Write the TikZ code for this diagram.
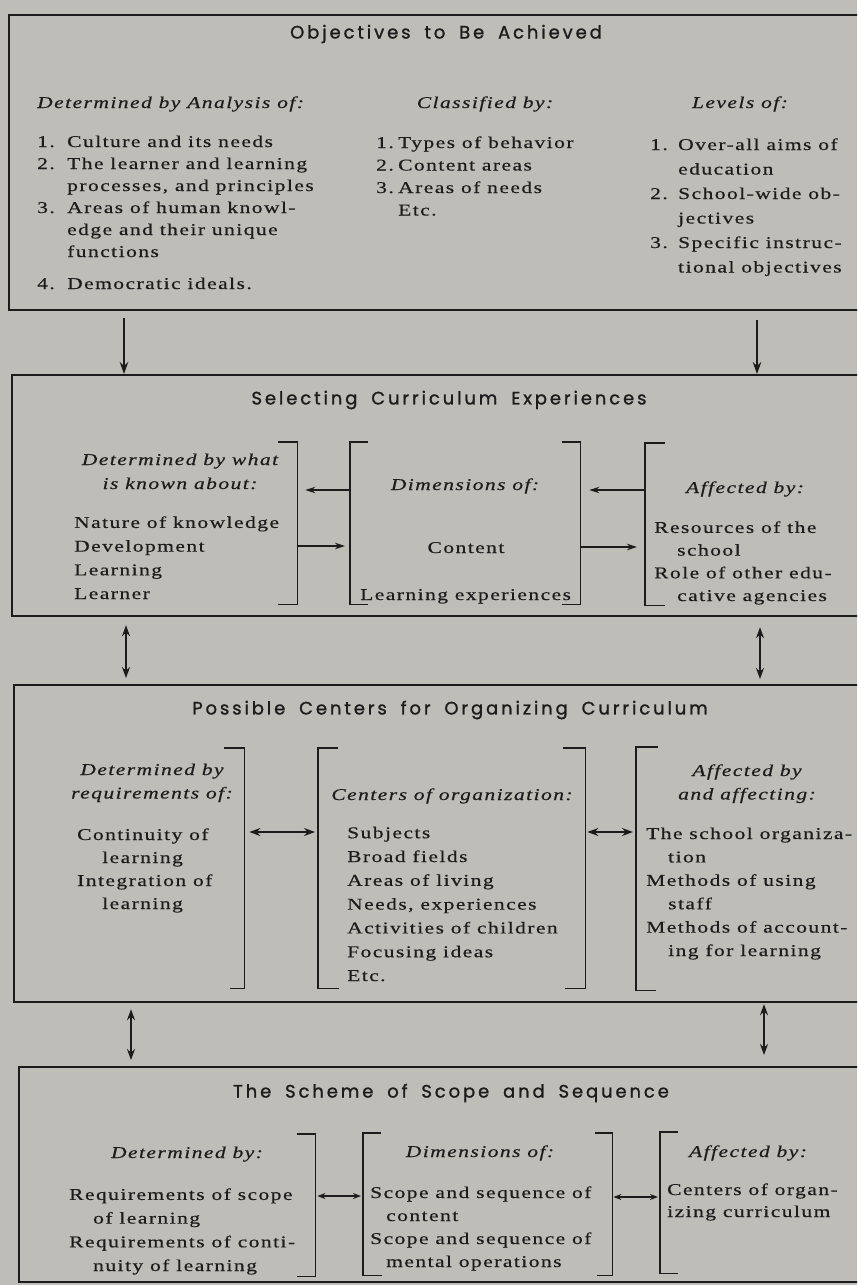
\documentclass[tikz,border=0pt]{standalone}
\usepackage{fontspec}
\usetikzlibrary{arrows.meta}
\setmainfont{Liberation Serif}[FakeStretch=1.3,LetterSpace=9,FakeBold=0.5]
\newfontfamily\headfont{Poppins}[LetterSpace=16,WordSpace=1.8,FakeBold=1.2]
\definecolor{paper}{RGB}{190,189,183}
\definecolor{ink}{RGB}{28,28,28}
% hanging number of a list item
\newcommand\itemno[2]{\makebox[#1][l]{#2}}

% multi-line text nodes are placed by the baseline of their last line
\tikzset{
  frame/.style={draw=ink, line width=2.2pt, inner sep=0pt, anchor=north west},
  span/.style={inner sep=0pt, anchor=north west},
  brk/.style={draw=ink, line width=1.8pt},
  title/.style={font=\headfont\fontsize{18}{20}\selectfont, text=ink, inner sep=0pt},
  head/.style={font=\fontsize{16.5}{#1}\selectfont\itshape, text=ink, inner sep=0pt, anchor=base, align=center},
  head/.default=23.5,
  txt/.style={font=\fontsize{16.5}{#1}\selectfont, text=ink, inner sep=0pt, align=left, anchor=base west},
  txt/.default=23,
  arr/.style={draw=ink, line width=1.5pt, -{Stealth[length=12pt,width=8.5pt]}},
  darr/.style={draw=ink, line width=1.5pt, {Stealth[length=11pt,width=8pt]}-{Stealth[length=11pt,width=8pt]}},
  sarr/.style={draw=ink, line width=1.4pt, {Stealth[length=8pt,width=6pt]}-{Stealth[length=8pt,width=6pt]}},
  iarr/.style={draw=ink, line width=1.5pt, -{Stealth[length=10pt,width=6.5pt]}},
}

\begin{document}
\begin{tikzpicture}[x=1pt,y=-1pt]
\fill[paper] (0,0) rectangle (857,1285);
\useasboundingbox (0,0) rectangle (857,1285);
\clip (0,0) rectangle (857,1285);

% ---------- the four stages ----------
\node[frame, minimum width=862pt, minimum height=295pt] (obj) at (8,14) {};
\node[frame, minimum width=859pt, minimum height=241pt] (sel) at (11,374) {};
\node[frame, minimum width=857pt, minimum height=317pt] (cen) at (13,684) {};
\node[frame, minimum width=852pt, minimum height=215pt] (scs) at (18,1066) {};

% ---------- stage 1: objectives ----------
\node[title] (t1) at (446,34) {Objectives to Be Achieved};
\node[head, anchor=base west] (h1a) at (37,108) {Determined by Analysis of:};
\node[head] (h1b) at (485,108) {Classified by:};
\node[head] (h1c) at (740,108) {Levels of:};
\node[txt=22] (c1a) at (37,289) {%
  \itemno{30pt}{1.}Culture and its needs\\
  \itemno{30pt}{2.}The learner and learning\\
  \hspace*{30pt}processes, and principles\\
  \itemno{30pt}{3.}Areas of human knowl-\\
  \hspace*{30pt}edge and their unique\\
  \hspace*{30pt}functions\\[10pt]
  \itemno{30pt}{4.}Democratic ideals.};
\node[txt=22.5] (c1b) at (376,215.5) {%
  \itemno{22pt}{1.}Types of behavior\\
  \itemno{22pt}{2.}Content areas\\
  \itemno{22pt}{3.}Areas of needs\\
  \hspace*{22pt}Etc.};
\node[txt=24.5] (c1c) at (650,272.5) {%
  \itemno{28pt}{1.}Over-all aims of\\
  \hspace*{28pt}education\\
  \itemno{28pt}{2.}School-wide ob-\\
  \hspace*{28pt}jectives\\
  \itemno{28pt}{3.}Specific instruc-\\
  \hspace*{28pt}tional objectives};

% ---------- stage 2: selecting experiences ----------
\node[title] (t2) at (449,400) {Selecting Curriculum Experiences};
\node[span, minimum width=237pt, minimum height=162pt] (sl) at (60,442) {};
\node[span, minimum width=230pt, minimum height=162pt] (sm) at (350,442) {};
\node[span, minimum width=205pt, minimum height=162pt] (sr) at (645,443) {};
\draw[brk] ([xshift=-19pt]sl.north east) -- (sl.north east) -- (sl.south east) -- ([xshift=-19pt]sl.south east);
\draw[brk] ([xshift=18pt]sm.north west) -- (sm.north west) -- (sm.south west) -- ([xshift=18pt]sm.south west);
\draw[brk] ([xshift=-18pt]sm.north east) -- (sm.north east) -- (sm.south east) -- ([xshift=-18pt]sm.south east);
\draw[brk] ([xshift=20pt]sr.north west) -- (sr.north west) -- (sr.south west) -- ([xshift=20pt]sr.south west);
\draw[iarr, shorten >=8pt] (sm.west |- 0,490) -- (sl.east |- 0,490);
\draw[iarr, shorten >=5pt] (sl.east |- 0,546) -- (sm.west |- 0,546);
\draw[iarr, shorten >=9pt] (sr.west |- 0,490) -- (sm.east |- 0,490);
\draw[iarr, shorten >=8pt] (sm.east |- 0,547) -- (sr.west |- 0,547);

\node[head=24] (h2a) at (180,489) {Determined by what\\is known about:};
\node[txt=23.7] (c2a) at (74,599) {Nature of knowledge\\Development\\Learning\\Learner};
\node[head] (h2b) at (465,490) {Dimensions of:};
\node[txt, anchor=base] (c2b) at (466,553) {Content};
\node[txt] (c2c) at (360,600) {Learning experiences};
\node[head] (h2c) at (745,493) {Affected by:};
\node[txt=22.7] (c2d) at (654,601) {%
  Resources of the\\
  \hspace*{23pt}school\\
  Role of other edu-\\
  \hspace*{23pt}cative agencies};

% ---------- stage 3: centers for organizing ----------
\node[title] (t3) at (450,710) {Possible Centers for Organizing Curriculum};
\node[span, minimum width=184pt, minimum height=240pt] (cl) at (60,748) {};
\node[span, minimum width=267pt, minimum height=240pt] (cm) at (318,748) {};
\node[span, minimum width=214pt, minimum height=243pt] (cr) at (636,747) {};
\draw[brk] ([xshift=-20pt]cl.north east) -- (cl.north east) -- (cl.south east) -- ([xshift=-14pt]cl.south east);
\draw[brk] ([xshift=20pt]cm.north west) -- (cm.north west) -- (cm.south west) -- ([xshift=21pt]cm.south west);
\draw[brk] ([xshift=-22pt]cm.north east) -- (cm.north east) -- (cm.south east) -- ([xshift=-20pt]cm.south east);
\draw[brk] ([xshift=22pt]cr.north west) -- (cr.north west) -- (cr.south west) -- ([xshift=20pt]cr.south west);
\draw[darr, shorten <=5pt, shorten >=3pt] (cl.east |- 0,832) -- (cm.west |- 0,832);
\draw[darr, shorten <=2pt, shorten >=3pt] (cm.east |- 0,832) -- (cr.west |- 0,832);

\node[head] (h3a) at (152,798.5) {Determined by\\requirements of:};
\node[txt] (c3a) at (77,909) {%
  Continuity of\\
  \hspace*{25pt}learning\\
  Integration of\\
  \hspace*{25pt}learning};
\node[head] (h3b) at (452,800) {Centers of organization:};
\node[txt=23.8] (c3b) at (347,981) {%
  Subjects\\Broad fields\\Areas of living\\Needs, experiences\\
  Activities of children\\Focusing ideas\\Etc.};
\node[head] (h3c) at (747,799.5) {Affected by\\and affecting:};
\node[txt=23.4] (c3c) at (646,956) {%
  The school organiza-\\
  \hspace*{22pt}tion\\
  Methods of using\\
  \hspace*{22pt}staff\\
  Methods of account-\\
  \hspace*{22pt}ing for learning};

% ---------- stage 4: scope and sequence ----------
\node[title] (t4) at (451,1093) {The Scheme of Scope and Sequence};
\node[span, minimum width=255pt, minimum height=142pt] (tl) at (60,1134) {};
\node[span, minimum width=249pt, minimum height=142pt] (tm) at (363,1133) {};
\node[span, minimum width=190pt, minimum height=141pt] (tr) at (660,1132) {};
\draw[brk] ([xshift=-18pt]tl.north east) -- (tl.north east) -- (tl.south east) -- ([xshift=-18pt]tl.south east);
\draw[brk] ([xshift=18pt]tm.north west) -- (tm.north west) -- (tm.south west) -- ([xshift=19pt]tm.south west);
\draw[brk] ([xshift=-17pt]tm.north east) -- (tm.north east) -- (tm.south east) -- ([xshift=-15pt]tm.south east);
\draw[brk] ([xshift=18pt]tr.north west) -- (tr.north west) -- (tr.south west) -- ([xshift=18pt]tr.south west);
\draw[sarr, shorten <=2pt, shorten >=2pt] (tl.east |- 0,1196) -- (tm.west |- 0,1196);
\draw[sarr, shorten <=1pt, shorten >=2pt] (tm.east |- 0,1197) -- (tr.west |- 0,1197);

\node[head] (h4a) at (187,1158) {Determined by:};
\node[txt=23.7] (c4a) at (69,1271) {%
  Requirements of scope\\
  \hspace*{24pt}of learning\\
  Requirements of conti-\\
  \hspace*{24pt}nuity of learning};
\node[head] (h4b) at (480,1157) {Dimensions of:};
\node[txt] (c4b) at (370,1267) {%
  Scope and sequence of\\
  \hspace*{16pt}content\\
  Scope and sequence of\\
  \hspace*{16pt}mental operations};
\node[head] (h4c) at (748,1157) {Affected by:};
\node[txt=22] (c4c) at (667,1217) {Centers of organ-\\izing curriculum};

% ---------- links between the stages ----------
\draw[arr, shorten <=7pt] (obj.south -| 124,0) -- (sel.north -| 124,0);
\draw[arr, shorten <=9pt] (obj.south -| 757,0) -- (sel.north -| 757,0);
\draw[darr, shorten <=8pt, shorten >=6pt] (sel.south -| 126,0) -- (cen.north -| 126,0);
\draw[darr, shorten <=10pt, shorten >=5pt] (sel.south -| 760,0) -- (cen.north -| 760,0);
\draw[darr, shorten <=6pt, shorten >=6pt] (cen.south -| 131,0) -- (scs.north -| 131,0);
\draw[darr, shorten <=1pt, shorten >=11pt] (cen.south -| 764,0) -- (scs.north -| 764,0);
\end{tikzpicture}
\end{document}
